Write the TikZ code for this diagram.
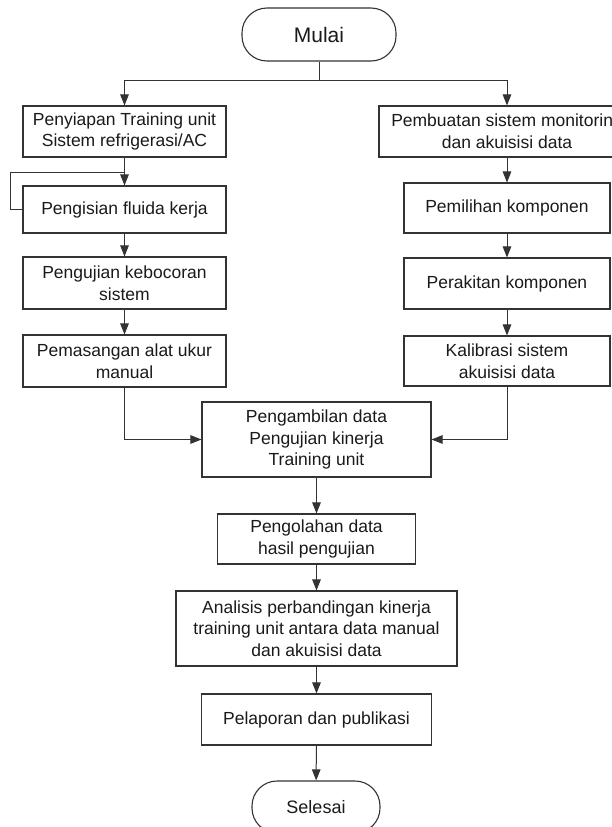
\documentclass[tikz,border=0pt]{standalone}
\usepackage{fontspec}
\setmainfont{Liberation Sans}
\usetikzlibrary{arrows.meta}
\definecolor{linec}{HTML}{333333}
\definecolor{textc}{HTML}{1A1A1A}
\tikzset{
  box/.style={draw=linec, line width=1.1pt, rectangle, inner sep=0pt, align=center,
    text=textc, font=\fontsize{17.5}{21.7}\selectfont},
  term/.style={draw=linec, line width=1.1pt, rectangle, rounded corners=25pt, inner sep=0pt,
    text=textc, font=\fontsize{21}{24}\selectfont},
  conn/.style={draw=linec, line width=1pt},
  arr/.style={conn, -{Triangle[length=11pt,width=8.5pt]}},
}
\begin{document}
\begin{tikzpicture}[x=1pt,y=-1pt]
\useasboundingbox (0,0) rectangle (612,827);
\clip (0,0) rectangle (612,827);
\fill[white] (0,0) rectangle (612,827);
% terminals
\node[term, minimum width=154pt, minimum height=53pt] (M) at (319,34.5) {Mulai};
\node[term, minimum width=128pt, minimum height=52pt, font=\fontsize{18}{22}\selectfont] (S) at (316,807) {Selesai};
% left column
\node[box, minimum width=203pt, minimum height=51pt] (L1) at (124.5,131.5) {Penyiapan Training unit\\Sistem refrigerasi/AC};
\node[box, minimum width=203pt, minimum height=47pt] (L2) at (124.5,209.5) {Pengisian fluida kerja};
\node[box, minimum width=203pt, minimum height=52pt] (L3) at (124.5,283) {Pengujian kebocoran\\sistem};
\node[box, minimum width=203pt, minimum height=52pt] (L4) at (124.5,361) {Pemasangan alat ukur\\manual};
% right column
\node[box, minimum width=256pt, minimum height=51pt] (R1) at (507,131.5) {Pembuatan sistem monitoring\\dan akuisisi data};
\node[box, minimum width=206pt, minimum height=50pt] (R2) at (507,208) {Pemilihan komponen};
\node[box, minimum width=206pt, minimum height=51pt] (R3) at (507,283.5) {Perakitan komponen};
\node[box, minimum width=206pt, minimum height=50pt] (R4) at (507,361) {Kalibrasi sistem\\akuisisi data};
% centre column
\node[box, minimum width=229pt, minimum height=75pt] (C1) at (316.5,439.5) {Pengambilan data\\Pengujian kinerja\\Training unit};
\node[box, minimum width=198pt, minimum height=50pt] (C2) at (316.5,539) {Pengolahan data\\hasil pengujian};
\node[box, minimum width=281pt, minimum height=75pt] (C3) at (316.5,628.5) {Analisis perbandingan kinerja\\training unit antara data manual\\dan akuisisi data};
\node[box, minimum width=230pt, minimum height=51pt] (C4) at (316.5,719.5) {Pelaporan dan publikasi};
% connectors
\coordinate (br) at (319,80);
\draw[conn] (M.south) -- (br);
\draw[arr] (br) -| (L1.north);
\draw[arr] (br) -| (R1.north);
\draw[arr] (L1) -- (L2);
\draw[arr] (L2) -- (L3);
\draw[arr] (L3) -- (L4);
\draw[arr] (R1) -- (R2);
\draw[arr] (R2) -- (R3);
\draw[arr] (R3) -- (R4);
\coordinate (lpa) at (10,209.5);
\coordinate (lpb) at (10,172);
\draw[conn] (L2.west) -- (lpa) -- (lpb) -- (lpb -| L1.south);
\draw[arr] (L4.south) |- (C1.west);
\draw[arr] (R4.south) |- (C1.east);
\draw[arr] (C1) -- (C2);
\draw[arr] (C2) -- (C3);
\draw[arr] (C3) -- (C4);
\draw[arr] (C4) -- (S);
\end{tikzpicture}
\end{document}
